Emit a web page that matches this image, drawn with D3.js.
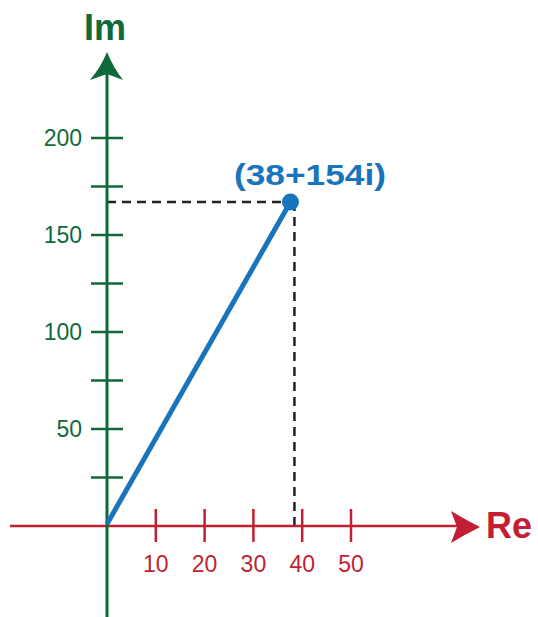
<!DOCTYPE html>
<html>
<head>
<meta charset="utf-8">
<script src="https://cdn.jsdelivr.net/npm/d3@7"></script>
<style>
  body { margin: 0; background: #fff; }
  text { font-family: "Liberation Sans", Arial, sans-serif; }
</style>
</head>
<body>
<div id="wrapper"></div>
<script>
// values
const reTicks = [10, 20, 30, 40, 50]
const imMajorTicks = [50, 100, 150, 200]
const imMinorTicks = [25, 75, 125, 175]
const pointRe = [38]
const pointIm = [167] // where the dot sits on the axis in the picture
const pointLabel = ["(38+154i)"]
const axisNames = ["Re", "Im"]

const green = "#0f6a3b"
const red = "#c21f32"
const blue = "#1774bd"

function drawArgand() {
    const width = 538
    const height = 617

    const svg = d3.select("#wrapper")
        .append("svg")
            .attr("width", width)
            .attr("height", height)

    // scales - origin sits at (107, 526)
    const xScale = d3.scaleLinear()
        .domain([0, 50])
        .range([107, 351])
    const yScale = d3.scaleLinear()
        .domain([0, 200])
        .range([526, 138])

    const x0 = xScale(0)
    const y0 = yScale(0)

    // dashed guides to the point
    const px = xScale(pointRe[0])
    const py = yScale(pointIm[0])
    svg.append("line")
        .attr("x1", x0).attr("x2", px)
        .attr("y1", py).attr("y2", py)
        .attr("stroke", "#222").attr("stroke-width", 2.5)
        .attr("stroke-dasharray", "9 6")
    svg.append("line")
        .attr("x1", px + 2).attr("x2", px + 2)
        .attr("y1", py).attr("y2", y0)
        .attr("stroke", "#222").attr("stroke-width", 2.5)
        .attr("stroke-dasharray", "9 6")

    // real axis (red)
    const reTip = 480
    svg.append("line")
        .attr("x1", 10).attr("x2", reTip - 20)
        .attr("y1", y0).attr("y2", y0)
        .attr("stroke", red).attr("stroke-width", 2.5)
    svg.append("path")
        .attr("d", `M${reTip},${y0 + 1} Q${reTip - 14},${y0 - 6} ${reTip - 29},${y0 - 15} L${reTip - 23},${y0 + 1} L${reTip - 29},${y0 + 17} Q${reTip - 14},${y0 + 8} ${reTip},${y0 + 1} Z`)
        .attr("fill", red)

    svg.selectAll(".re-tick")
        .data(reTicks)
        .join("line")
            .attr("class", "re-tick")
            .attr("x1", d => xScale(d)).attr("x2", d => xScale(d))
            .attr("y1", y0 - 17).attr("y2", y0 + 16)
            .attr("stroke", red).attr("stroke-width", 2.5)

    svg.selectAll(".re-label")
        .data(reTicks)
        .join("text")
            .attr("class", "re-label")
            .attr("x", d => xScale(d))
            .attr("y", 572)
            .attr("text-anchor", "middle")
            .attr("font-size", 23)
            .attr("fill", red)
            .text(d => d)

    svg.append("text")
        .attr("x", 486).attr("y", 538)
        .attr("font-size", 36).attr("font-weight", "bold")
        .attr("fill", red)
        .text(axisNames[0])

    // imaginary axis (green)
    const imTip = 52
    svg.append("line")
        .attr("x1", x0).attr("x2", x0)
        .attr("y1", 617).attr("y2", imTip + 20)
        .attr("stroke", green).attr("stroke-width", 3)
    svg.append("path")
        .attr("d", `M${x0},${imTip} Q${x0 + 6},${imTip + 15} ${x0 + 16},${imTip + 28} L${x0},${imTip + 22} L${x0 - 17},${imTip + 28} Q${x0 - 6},${imTip + 15} ${x0},${imTip} Z`)
        .attr("fill", green)

    svg.selectAll(".im-tick")
        .data(imMajorTicks.concat(imMinorTicks))
        .join("line")
            .attr("class", "im-tick")
            .attr("x1", x0 - 16).attr("x2", x0 + 16)
            .attr("y1", d => yScale(d)).attr("y2", d => yScale(d))
            .attr("stroke", green).attr("stroke-width", 2.5)

    svg.selectAll(".im-label")
        .data(imMajorTicks)
        .join("text")
            .attr("class", "im-label")
            .attr("x", 82)
            .attr("y", d => yScale(d))
            .attr("dy", "0.36em")
            .attr("text-anchor", "end")
            .attr("font-size", 23)
            .attr("fill", green)
            .text(d => d)

    svg.append("text")
        .attr("x", 84).attr("y", 40)
        .attr("font-size", 36).attr("font-weight", "bold")
        .attr("fill", green)
        .text(axisNames[1])

    // the vector and its point
    svg.append("line")
        .attr("x1", x0).attr("y1", y0 - 2)
        .attr("x2", px - 2).attr("y2", py)
        .attr("stroke", blue).attr("stroke-width", 5)
    svg.append("circle")
        .attr("cx", px - 2).attr("cy", py)
        .attr("r", 8.5)
        .attr("fill", blue)

    svg.append("text")
        .attr("x", 234).attr("y", 185)
        .attr("font-size", 30).attr("font-weight", "bold")
        .attr("textLength", 152).attr("lengthAdjust", "spacingAndGlyphs")
        .attr("fill", blue)
        .text(pointLabel[0])
}

drawArgand()
</script>
</body>
</html>
